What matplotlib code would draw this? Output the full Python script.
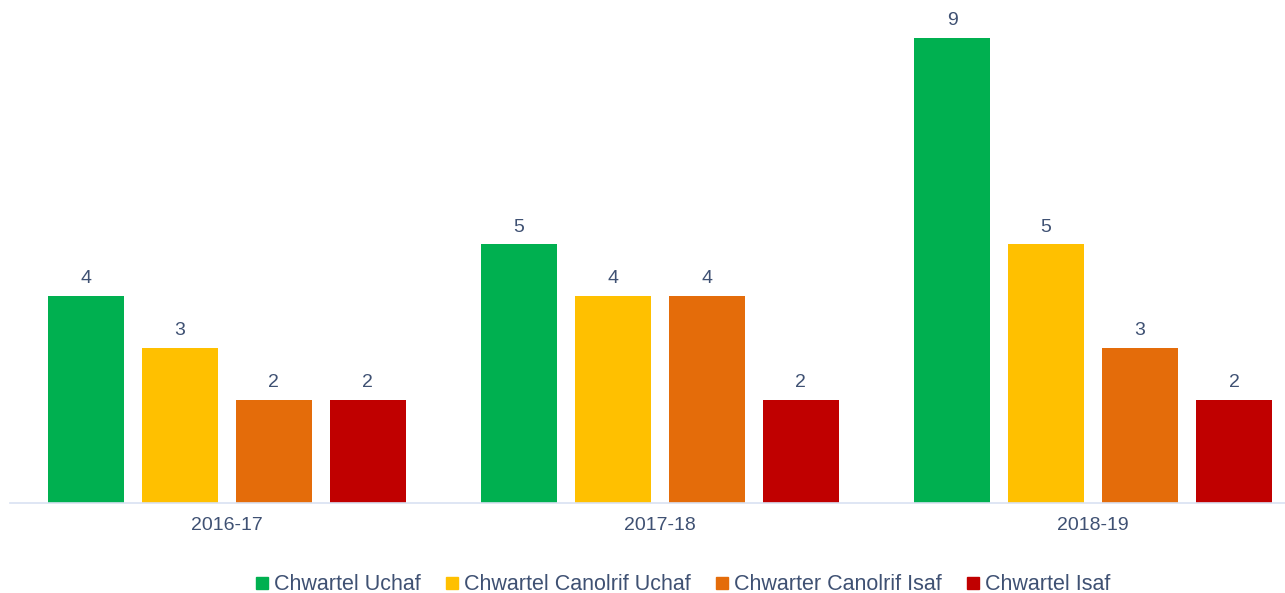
import numpy as np
import matplotlib.pyplot as plt
from matplotlib.lines import Line2D

# data
years = ['2016-17', '2017-18', '2018-19']
series = ['Chwartel Uchaf', 'Chwartel Canolrif Uchaf', 'Chwarter Canolrif Isaf', 'Chwartel Isaf']
uchaf = [4, 5, 9]
canolrif_uchaf = [3, 4, 5]
canolrif_isaf = [2, 4, 3]
isaf = [2, 2, 2]
colors = ['#00B050', '#FFC000', '#E46C0A', '#C00000']
text_color = '#3F5173'

plt.rcParams['font.family'] = ['Liberation Sans', 'DejaVu Sans']

fig = plt.figure(figsize=(12.85, 5.93), dpi=100)
ax = fig.add_axes([0, 90 / 593, 1, 503 / 593])

x = np.arange(len(years))
unit = 433.25  # pixels per group
step = 94 / unit
width = 76 / unit
for i, (vals, col) in enumerate(zip([uchaf, canolrif_uchaf, canolrif_isaf, isaf], colors)):
    pos = x + (i - 1.5) * step
    bars = ax.bar(pos, vals, width, color=col, label=series[i])
    for b, v in zip(bars, vals):
        ax.text(b.get_x() + b.get_width() / 2, v + 0.17, str(v), ha='center', va='bottom',
                fontsize=14, color=text_color)

ax.set_xlim(-226.5 / unit, (1285 - 226.5) / unit)
ax.set_ylim(0, 503 / 51.7)
for s in ['top', 'right', 'left']:
    ax.spines[s].set_visible(False)
ax.spines['bottom'].set_color('#D9E1F2')
ax.spines['bottom'].set_linewidth(1.2)
ax.spines['bottom'].set_bounds((10 - 226.5) / unit, (1285 - 226.5) / unit)
ax.set_yticks([])
ax.set_xticks(x)
ax.set_xticklabels(years, fontsize=14, color=text_color)
ax.tick_params(axis='x', length=0, pad=10)

handles = [Line2D([], [], marker='s', linestyle='none', color=c, markersize=8) for c in colors]
fig.legend(handles, series, loc='center', bbox_to_anchor=(0.532, 8 / 593), ncol=4,
           frameon=False, fontsize=15.5, labelcolor=text_color, handletextpad=0.3,
           columnspacing=1.2, handlelength=0.5)

fig.savefig('out.png', dpi=100)
